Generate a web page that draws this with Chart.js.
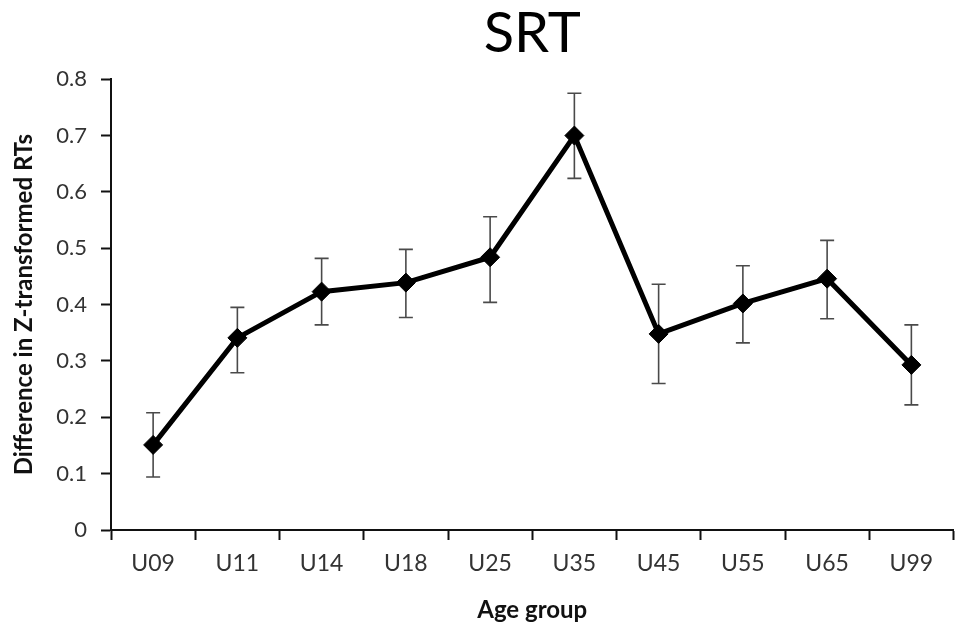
<!DOCTYPE html>
<html>
<head>
<meta charset="utf-8">
<script src="https://cdn.jsdelivr.net/npm/chart.js@4/dist/chart.umd.min.js"></script>
<style>
    html, body { margin: 0; padding: 0; background: #fff; overflow: hidden; }
    #wrap { width: 964px; height: 625px; position: relative; }
</style>
</head>
<body>
<div id="wrap"><canvas id="chartSRT"></canvas></div>
<script>
const categories = ["U09", "U11", "U14", "U18", "U25", "U35", "U45", "U55", "U65", "U99"];
const meanDiff = [0.151, 0.341, 0.423, 0.439, 0.484, 0.700, 0.348, 0.402, 0.446, 0.293];
const errHigh = [0.208, 0.395, 0.482, 0.498, 0.556, 0.775, 0.436, 0.469, 0.514, 0.364];
const errLow = [0.094, 0.279, 0.364, 0.377, 0.404, 0.624, 0.260, 0.332, 0.375, 0.222];
const yTicks = [0, 0.1, 0.2, 0.3, 0.4, 0.5, 0.6, 0.7, 0.8];

// barras de error, detras de la linea
const errorBars = {
    id: "errorBars",
    beforeDatasetsDraw(chart) {
        const { ctx, scales } = chart;
        const x = scales.x, y = scales.y;
        ctx.save();
        ctx.strokeStyle = "#4a4a4a";
        ctx.lineWidth = 1.6;
        categories.forEach((c, i) => {
            const px = x.getPixelForValue(i);
            const top = y.getPixelForValue(errHigh[i]);
            const bot = y.getPixelForValue(errLow[i]);
            ctx.beginPath();
            ctx.moveTo(px, top); ctx.lineTo(px, bot);
            ctx.moveTo(px - 7, top); ctx.lineTo(px + 7, top);
            ctx.moveTo(px - 7, bot); ctx.lineTo(px + 7, bot);
            ctx.stroke();
        });
        ctx.restore();
    }
};

new Chart(document.getElementById("chartSRT"), {
    type: "line",
    data: {
        labels: categories,
        datasets: [{
            label: "SRT",
            data: meanDiff,
            borderColor: "#000",
            borderWidth: 5,
            backgroundColor: "#000",
            pointStyle: "rectRot",
            pointRadius: 9.5,
            pointBorderWidth: 1,
            pointBackgroundColor: "#000",
            pointBorderColor: "#000",
            tension: 0
        }]
    },
    options: {
        responsive: true,
        maintainAspectRatio: false,
        animation: false,
        layout: { padding: { left: 10, right: 0, top: 0, bottom: 0 } },
        plugins: {
            legend: { display: false },
            tooltip: { enabled: false },
            title: {
                display: true,
                text: "SRT",
                fullSize: false,
                color: "#000",
                font: { family: "Lato", size: 56, weight: "normal" },
                padding: { top: 0, bottom: 12 }
            }
        },
        scales: {
            x: {
                offset: true,
                afterFit: (scale) => { scale.height = 95; },
                grid: {
                    offset: true,
                    drawOnChartArea: false,
                    tickLength: 10,
                    tickColor: "#111",
                    tickWidth: 2
                },
                border: { color: "#111", width: 2 },
                ticks: {
                    color: "#333",
                    padding: 10,
                    font: { family: "Lato", size: 23 }
                },
                title: {
                    display: true,
                    text: "Age group",
                    color: "#111",
                    font: { family: "Lato", size: 24, weight: "bold" },
                    padding: { top: 0, bottom: 0 }
                }
            },
            y: {
                min: 0,
                max: 0.8,
                afterFit: (scale) => { scale.width = 101; },
                afterBuildTicks: (scale) => { scale.ticks = yTicks.map(v => ({ value: v })); },
                grid: {
                    drawOnChartArea: false,
                    tickLength: 10,
                    tickColor: "#111",
                    tickWidth: 2
                },
                border: { color: "#111", width: 2 },
                ticks: {
                    color: "#333",
                    padding: 14,
                    font: { family: "Lato", size: 22 },
                    callback: (v) => String(v)
                },
                title: {
                    display: true,
                    text: "Difference in Z-transformed RTs",
                    color: "#111",
                    font: { family: "Lato", size: 24, weight: "bold" },
                    padding: { top: 0, bottom: 2 }
                }
            }
        }
    },
    plugins: [errorBars]
});
</script>
</body>
</html>
